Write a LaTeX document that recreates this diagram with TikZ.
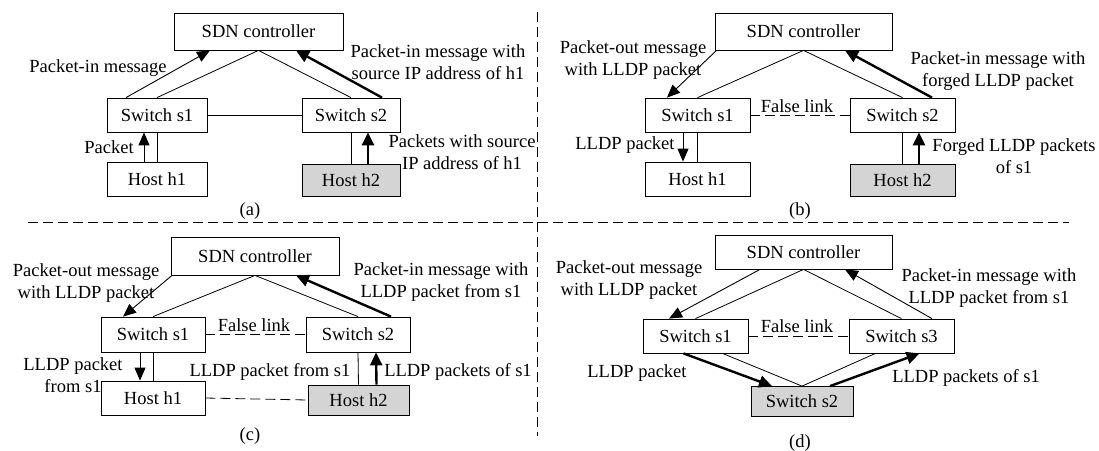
\documentclass[tikz,border=0pt]{standalone}
\usepackage{fontspec}
\setmainfont{Liberation Serif}
\usetikzlibrary{arrows.meta,calc}
\begin{document}
\begin{tikzpicture}[x=1pt,y=-1pt,
  font=\fontsize{18.5}{22}\selectfont,
  box/.style={draw, line width=0.8pt, inner sep=0pt, fill=white},
  attacker/.style={box, fill=black!17},
  link/.style={line width=0.8pt},
  falselink/.style={line width=0.8pt, dash pattern=on 10pt off 5pt},
  msg/.style={line width=0.9pt, -{Triangle[length=13pt,width=11pt]}},
  msgthick/.style={line width=2.4pt, -{Triangle[length=13pt,width=12pt]}},
  divider/.style={line width=0.9pt, dash pattern=on 10pt off 5pt},
  lbl/.style={align=center, inner sep=0pt},
]
\useasboundingbox (0,0) rectangle (1099,450);

% panel dividers
\draw[divider] (28,222) -- (1069,222);
\draw[divider] (537,12) -- (537,436);

% ---------- (a) spoofed source address ----------
\node[box, minimum width=169pt, minimum height=37pt] (ca) at (258.5,31.5) {SDN controller};
\node[box, minimum width=100pt, minimum height=34pt] (s1a) at (157,115) {Switch s1};
\node[box, minimum width=98pt, minimum height=34pt] (s2a) at (351,115) {Switch s2};
\node[box, minimum width=100pt, minimum height=34pt] (h1a) at (157,179) {Host h1};
\node[attacker, minimum width=98pt, minimum height=32pt] (h2a) at (351,180) {Host h2};

\draw[link] (ca.south) -- (s1a.north);
\draw[link] (ca.south) -- (s2a.north);
\draw[link] (s1a.east) -- (s2a.west);
\draw[link] (s1a.south) -- (h1a.north);
\draw[link] (s2a.south) -- (h2a.north);
\draw[msg] ([xshift=-31pt]s1a.north) -- ([xshift=-48.5pt]ca.south);
\draw[msgthick] ([xshift=31pt]s2a.north) -- ([xshift=37.5pt]ca.south);
\draw[msg] ([xshift=-13pt]h1a.north) -- ([xshift=-13pt]s1a.south);
\draw[msgthick] ([xshift=17pt]h2a.north) -- ([xshift=17pt]s2a.south);

\node[lbl] (la1) at (98,68) {Packet-in message};
\node[lbl] (la2) at (438,62) {Packet-in message with\\source IP address of h1};
\node[lbl] (la3) at (109,147) {Packet};
\node[lbl] (la4) at (462,152) {Packets with source\\IP address of h1};
\node[lbl] (capa) at (250,211) {(a)};

% ---------- (b) forged LLDP packet ----------
\node[box, minimum width=177pt, minimum height=37pt] (cb) at (803.5,31.5) {SDN controller};
\node[box, minimum width=105pt, minimum height=34pt] (s1b) at (697.5,115) {Switch s1};
\node[box, minimum width=105pt, minimum height=34pt] (s2b) at (902.5,115) {Switch s2};
\node[box, minimum width=105pt, minimum height=34pt] (h1b) at (697.5,179) {Host h1};
\node[attacker, minimum width=105pt, minimum height=32pt] (h2b) at (902.5,180) {Host h2};

\draw[link] (cb.south) -- (s1b.north);
\draw[link] (cb.south) -- (s2b.north);
\draw[falselink] (s1b.east) -- (s2b.west);
\draw[link] (s1b.south) -- (h1b.north);
\draw[link] (s2b.south) -- (h2b.north);
\draw[msg] ([xshift=-87pt]cb.south) -- ([xshift=-30.5pt]s1b.north);
\draw[msgthick] ([xshift=29.5pt]s2b.north) -- ([xshift=41.5pt]cb.south);
\draw[msg] ([xshift=-14.5pt]s1b.south) -- ([xshift=-14.5pt]h1b.north);
\draw[msgthick] ([xshift=16.5pt]h2b.north) -- ([xshift=16.5pt]s2b.south);

\node[lbl] (lb1) at (633,60) {Packet-out message\\with LLDP packet};
\node[lbl] (lb2) at (998,71.5) {Packet-in message with\\forged LLDP packet};
\node[lbl] (lb3) at (797,106) {False link};
\node[lbl] (lb4) at (625,145) {LLDP packet};
\node[lbl] (lb5) at (1014,156) {Forged LLDP packets\\of s1};
\node[lbl] (capb) at (800,211) {(b)};

% ---------- (c) relayed LLDP packet ----------
\node[box, minimum width=168pt, minimum height=38pt] (cc) at (255,256) {SDN controller};
\node[box, minimum width=104pt, minimum height=35pt] (s1c) at (153,334.5) {Switch s1};
\node[box, minimum width=104pt, minimum height=35pt] (s2c) at (358,334.5) {Switch s2};
\node[box, minimum width=104pt, minimum height=34pt] (h1c) at (153,398) {Host h1};
\node[attacker, minimum width=101pt, minimum height=30pt] (h2c) at (358.5,400) {Host h2};

\draw[link] (cc.south) -- (s1c.north);
\draw[link] (cc.south) -- (s2c.north);
\draw[falselink] (s1c.east) -- (s2c.west);
\draw[link] (s1c.south) -- (h1c.north);
\draw[link] (s2c.south) -- (h2c.north);
\draw[falselink] (h1c.east) -- (h2c.west);
\draw[msg] ([xshift=-83pt]cc.south) -- ([xshift=-30pt]s1c.north);
\draw[msgthick] ([xshift=33pt]s2c.north) -- ([xshift=41pt]cc.south);
\draw[msg] ([xshift=-13pt]s1c.south) -- ([xshift=-13pt]h1c.north);
\draw[msgthick] ([xshift=18pt]h2c.north) -- ([xshift=18pt]s2c.south);

\node[lbl] (lc1) at (86,283) {Packet-out message\\with LLDP packet};
\node[lbl] (lc2) at (441,282.5) {Packet-in message with\\LLDP packet from s1};
\node[lbl] (lc3) at (254,325) {False link};
\node[lbl] (lc4) at (73,375.5) {LLDP packet\\from s1};
\node[lbl] (lc5) at (270,372) {LLDP packet from s1};
\node[lbl] (lc6) at (458,372) {LLDP packets of s1};
\node[lbl] (capc) at (250,436) {(c)};

% ---------- (d) relay through a switch ----------
\node[box, minimum width=177pt, minimum height=34pt] (cd) at (803.5,252) {SDN controller};
\node[box, minimum width=105pt, minimum height=34pt] (s1d) at (695.5,336) {Switch s1};
\node[box, minimum width=105pt, minimum height=34pt] (s3d) at (901.5,336) {Switch s3};
\node[attacker, minimum width=102pt, minimum height=30pt] (s2d) at (802,401.5) {Switch s2};

\draw[link] (cd.south) -- (s1d.north);
\draw[link] (cd.south) -- (s3d.north);
\draw[falselink] (s1d.east) -- (s3d.west);
\draw[link] ([xshift=27pt]s1d.south) -- (s2d.north);
\draw[link] ([xshift=-26pt]s3d.south) -- (s2d.north);
\draw[msg] ([xshift=-43.5pt]cd.south) -- ([xshift=-26.5pt]s1d.north);
\draw[msg] ([xshift=30.5pt]s3d.north) -- ([xshift=41.5pt]cd.south);
\draw[msgthick] ([xshift=-12pt]s1d.south) -- ([xshift=-30pt]s2d.north);
\draw[msgthick] ([xshift=28pt]s2d.north) -- ([xshift=18pt]s3d.south);

\node[lbl] (ld1) at (629,280.5) {Packet-out message\\with LLDP packet};
\node[lbl] (ld2) at (989,288) {Packet-in message with\\LLDP packet from s1};
\node[lbl] (ld3) at (797,326) {False link};
\node[lbl] (ld4) at (637,373) {LLDP packet};
\node[lbl] (ld5) at (966,378) {LLDP packets of s1};
\node[lbl] (capd) at (800,443) {(d)};
\end{tikzpicture}
\end{document}
